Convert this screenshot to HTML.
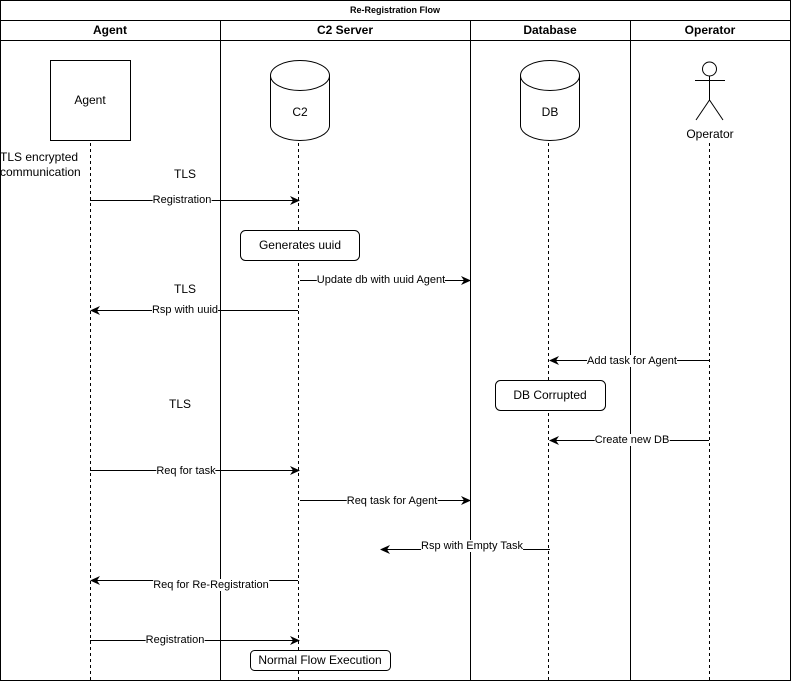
<!DOCTYPE html>
<html><head><meta charset="utf-8"><style>
body{margin:0;width:791px;height:682px;background:#fff;position:relative;overflow:hidden;font-family:"Liberation Sans",Arial,sans-serif;}
svg{position:absolute;left:0;top:0}
.l{position:absolute;transform:translate(-50%,-50%);background:#fff;font-size:11px;line-height:12px;white-space:nowrap;color:#000}
.t{position:absolute;transform:translate(-50%,-50%);font-size:12px;white-space:nowrap;color:#000}
.h{position:absolute;transform:translate(-50%,-50%);font-size:12px;font-weight:bold;white-space:nowrap}
</style></head><body>
<svg width="791" height="682" viewBox="0 0 791 682">
<defs><marker id="a" markerWidth="12" markerHeight="12" refX="9" refY="6" orient="auto" markerUnits="userSpaceOnUse"><path d="M0,1.5 L10,6 L0,10.5 L3,6 Z" fill="#000"/></marker></defs>
<g fill="none" stroke="#000" stroke-width="1">
<rect x="0.5" y="0.5" width="790" height="680"/>
<line x1="0" y1="20.5" x2="791" y2="20.5"/>
<line x1="0" y1="40.5" x2="791" y2="40.5"/>
<line x1="220.5" y1="20" x2="220.5" y2="681"/>
<line x1="470.5" y1="20" x2="470.5" y2="681"/>
<line x1="630.5" y1="20" x2="630.5" y2="681"/>
<rect x="50.5" y="60.5" width="80" height="80"/>
<path d="M270.5,75.5 A29.5,15 0 0 1 329.5,75.5 L329.5,125.5 A29.5,15 0 0 1 270.5,125.5 Z M270.5,75.5 A29.5,15 0 0 0 329.5,75.5"/>
<path d="M520.5,75.5 A29.5,15 0 0 1 579.5,75.5 L579.5,125.5 A29.5,15 0 0 1 520.5,125.5 Z M520.5,75.5 A29.5,15 0 0 0 579.5,75.5"/>
<circle cx="709.5" cy="69" r="7"/>
<line x1="695" y1="80.5" x2="725" y2="80.5"/>
<line x1="709.5" y1="76" x2="709.5" y2="100"/>
<path d="M696,120 L709.5,100 L723,120"/>
<g stroke-dasharray="3,3">
<line x1="90.5" y1="143" x2="90.5" y2="681"/>
<line x1="298.5" y1="143" x2="298.5" y2="681"/>
<line x1="548.5" y1="143" x2="548.5" y2="681"/>
<line x1="709.5" y1="143" x2="709.5" y2="681"/>
</g>
<g marker-end="url(#a)">
<line x1="90" y1="200.5" x2="299" y2="200.5"/>
<line x1="300" y1="280.5" x2="470" y2="280.5"/>
<line x1="298" y1="310.5" x2="91" y2="310.5"/>
<line x1="709" y1="360.5" x2="550" y2="360.5"/>
<line x1="709" y1="440.5" x2="550" y2="440.5"/>
<line x1="90" y1="470.5" x2="299" y2="470.5"/>
<line x1="300" y1="500.5" x2="470" y2="500.5"/>
<line x1="550" y1="549.5" x2="381" y2="549.5"/>
<line x1="298" y1="580.5" x2="91" y2="580.5"/>
<line x1="90" y1="640.5" x2="299" y2="640.5"/>
</g>
<rect x="240.5" y="230.5" width="119" height="30" rx="5" fill="#fff"/>
<rect x="495.5" y="380.5" width="110" height="30" rx="5" fill="#fff"/>
<rect x="250.5" y="650.5" width="140" height="20" rx="4" fill="#fff"/>
</g>
</svg>
<div class="h" style="left:395px;top:10px;font-size:9px">Re-Registration Flow</div>
<div class="h" style="left:110px;top:30px">Agent</div>
<div class="h" style="left:345px;top:30px">C2 Server</div>
<div class="h" style="left:550px;top:30px">Database</div>
<div class="h" style="left:710px;top:30px">Operator</div>
<div class="t" style="left:90px;top:100px">Agent</div>
<div class="t" style="left:300px;top:112px">C2</div>
<div class="t" style="left:550px;top:112px">DB</div>
<div class="t" style="left:710px;top:134px">Operator</div>
<div class="t" style="left:0;transform:none;line-height:15px;top:150px">TLS encrypted<br>communication</div>
<div class="t" style="left:185px;top:174px">TLS</div>
<div class="t" style="left:185px;top:289px">TLS</div>
<div class="t" style="left:180px;top:404px">TLS</div>
<div class="t" style="left:300px;top:245px">Generates uuid</div>
<div class="t" style="left:550px;top:395px">DB Corrupted</div>
<div class="t" style="left:320px;top:660px">Normal Flow Execution</div>
<div class="l" style="left:182px;top:200px">Registration</div>
<div class="l" style="left:381px;top:280px">Update db with uuid Agent</div>
<div class="l" style="left:185px;top:310px">Rsp with uuid</div>
<div class="l" style="left:632px;top:361px">Add task for Agent</div>
<div class="l" style="left:632px;top:440px">Create new DB</div>
<div class="l" style="left:186px;top:471px">Req for task</div>
<div class="l" style="left:392px;top:501px">Req task for Agent</div>
<div class="l" style="left:472px;top:546px">Rsp with Empty Task</div>
<div class="l" style="left:211px;top:585px">Req for Re-Registration</div>
<div class="l" style="left:175px;top:640px">Registration</div>
</body></html>
